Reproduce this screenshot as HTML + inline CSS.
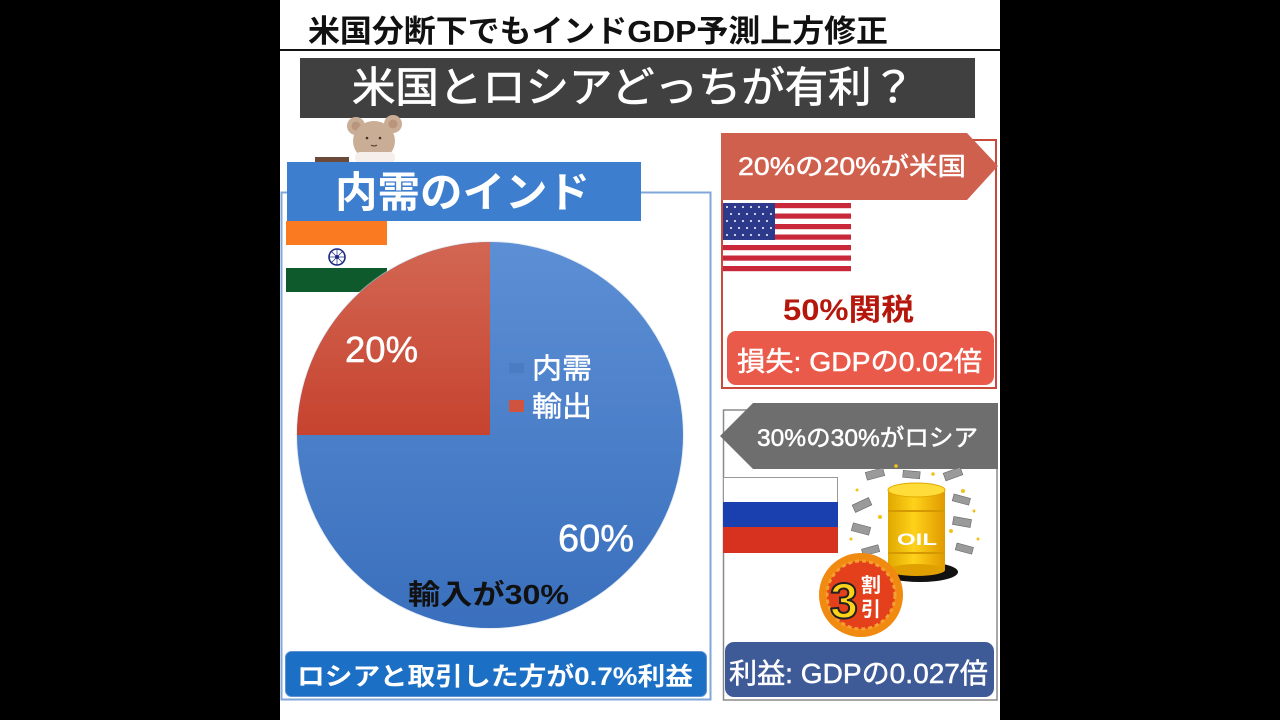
<!DOCTYPE html>
<html><head><meta charset="utf-8"><style>
html,body{margin:0;padding:0;background:#000;}
svg{display:block;}
text{font-family:"Liberation Sans","Noto Sans CJK JP",sans-serif;}
</style></head><body>
<svg width="1280" height="720" viewBox="0 0 1280 720" xmlns="http://www.w3.org/2000/svg">
<defs>
<linearGradient id="gb" x1="0" y1="0" x2="0" y2="1"><stop offset="0" stop-color="#5c8fd4"/><stop offset="1" stop-color="#3a6fbd"/></linearGradient>
<linearGradient id="gr" x1="0" y1="0" x2="0" y2="1"><stop offset="0" stop-color="#d26753"/><stop offset="1" stop-color="#c6432f"/></linearGradient>
<linearGradient id="gy" x1="0" y1="0" x2="1" y2="0"><stop offset="0" stop-color="#e0a800"/><stop offset="0.45" stop-color="#ffd21a"/><stop offset="1" stop-color="#e09a00"/></linearGradient>
</defs>
<rect x="0" y="0" width="1280" height="720" fill="#000"/>
<rect x="280" y="0" width="720" height="720" fill="#fff"/>

<!-- title -->
<text x="308" y="42" font-size="31" font-weight="bold" fill="#111" textLength="580" lengthAdjust="spacingAndGlyphs">米国分断下でもインドGDP予測上方修正</text>
<rect x="280" y="49" width="720" height="2" fill="#111"/>

<!-- dark bar -->
<rect x="300" y="58" width="675" height="60" fill="#404040"/>
<text x="352" y="102" font-size="42" fill="#fff" stroke="#fff" stroke-width="0.8" textLength="563" lengthAdjust="spacingAndGlyphs">米国とロシアどっちが有利？</text>

<!-- bear -->
<rect x="315" y="157" width="34" height="6" fill="#6b4a3a"/>
<circle cx="356" cy="126" r="9" fill="#c9ad95"/>
<circle cx="393" cy="124" r="9" fill="#c9ad95"/>
<circle cx="356" cy="126" r="4.5" fill="#b8957c"/>
<circle cx="393" cy="124" r="4.5" fill="#b8957c"/>
<ellipse cx="374" cy="141" rx="21" ry="20" fill="#c9ad95"/>
<rect x="355" y="152" width="40" height="11" rx="5" fill="#f6eeea"/>
<circle cx="367" cy="138" r="1.3" fill="#4a3020"/>
<circle cx="380" cy="138" r="1.3" fill="#4a3020"/>
<path d="M371 145 q3 2 6 0" stroke="#4a3020" stroke-width="1" fill="none"/>

<!-- left outline box -->
<rect x="281.5" y="192.5" width="429" height="507" fill="none" stroke="#7fa7d9" stroke-width="2"/>

<!-- blue header -->
<rect x="287" y="162" width="354" height="59" fill="#3d7ecf"/>
<text x="335" y="207" font-size="42" font-weight="bold" fill="#fff" textLength="255" lengthAdjust="spacingAndGlyphs">内需のインド</text>

<!-- India flag -->
<rect x="286" y="221" width="101" height="24" fill="#fa7a22"/>
<rect x="286" y="245" width="101" height="23" fill="#fff"/>
<rect x="286" y="268" width="101" height="24" fill="#0e5a2d"/>
<circle cx="337" cy="257" r="8" fill="#fff" stroke="#1c2a80" stroke-width="1.6"/>
<circle cx="337" cy="257" r="2" fill="#1c2a80"/>
<path d="M329 257h16M337 249v16M331.3 251.3l11.4 11.4M342.7 251.3l-11.4 11.4" stroke="#1c2a80" stroke-width="0.7"/>

<!-- pie -->
<circle cx="490" cy="435" r="194" fill="#d8e2ef" opacity="0.6"/>
<circle cx="490" cy="435" r="193" fill="url(#gb)"/>
<path d="M490 435 L490 242 A193 193 0 0 0 297 435 Z" fill="url(#gr)"/>
<text x="345" y="362" font-size="36" fill="#fff" stroke="#fff" stroke-width="0.5" textLength="73" lengthAdjust="spacingAndGlyphs">20%</text>
<text x="558" y="551" font-size="38" fill="#fff" stroke="#fff" stroke-width="0.5" textLength="76" lengthAdjust="spacingAndGlyphs">60%</text>
<rect x="509" y="363" width="15" height="10" fill="#4a7cc4"/>
<rect x="509" y="400" width="15" height="12" fill="#d0533f"/>
<text x="532" y="378" font-size="28" fill="#fff" stroke="#fff" stroke-width="0.5" textLength="60" lengthAdjust="spacingAndGlyphs">内需</text>
<text x="532" y="416" font-size="28" fill="#fff" stroke="#fff" stroke-width="0.5" textLength="60" lengthAdjust="spacingAndGlyphs">輸出</text>
<text x="408" y="604" font-size="28" font-weight="bold" fill="#111" textLength="161" lengthAdjust="spacingAndGlyphs">輸入が30%</text>

<!-- bottom-left box -->
<rect x="285.5" y="651.5" width="421" height="45" rx="6" fill="#1b6fc4" stroke="#5d93d3" stroke-width="1"/>
<text x="297" y="685" font-size="25" font-weight="bold" fill="#fff" textLength="396" lengthAdjust="spacingAndGlyphs">ロシアと取引した方が0.7%利益</text>

<!-- right top panel -->
<rect x="722" y="140" width="274" height="248" fill="none" stroke="#c9493a" stroke-width="2"/>
<polygon points="721,133 967,133 998,166 967,200 721,200" fill="#d0604e"/>
<text x="738" y="175" font-size="25" fill="#fff" stroke="#fff" stroke-width="0.5" textLength="228" lengthAdjust="spacingAndGlyphs">20%の20%が米国</text>

<!-- US flag -->
<g>
<rect x="723" y="203" width="128" height="68" fill="#fff"/>
<rect x="723" y="203" width="128" height="5.2" fill="#c8283a"/>
<rect x="723" y="213.5" width="128" height="5.2" fill="#c8283a"/>
<rect x="723" y="224" width="128" height="5.2" fill="#c8283a"/>
<rect x="723" y="234.5" width="128" height="5.2" fill="#c8283a"/>
<rect x="723" y="245" width="128" height="5.2" fill="#c8283a"/>
<rect x="723" y="255.5" width="128" height="5.2" fill="#c8283a"/>
<rect x="723" y="266" width="128" height="5.2" fill="#c8283a"/>
<rect x="723" y="203" width="52" height="37" fill="#2d3a8c"/>
<g fill="#fff">
<circle cx="727" cy="207" r="1"/><circle cx="735" cy="207" r="1"/><circle cx="743" cy="207" r="1"/><circle cx="751" cy="207" r="1"/><circle cx="759" cy="207" r="1"/><circle cx="767" cy="207" r="1"/>
<circle cx="731" cy="214" r="1"/><circle cx="739" cy="214" r="1"/><circle cx="747" cy="214" r="1"/><circle cx="755" cy="214" r="1"/><circle cx="763" cy="214" r="1"/><circle cx="771" cy="214" r="1"/>
<circle cx="727" cy="221" r="1"/><circle cx="735" cy="221" r="1"/><circle cx="743" cy="221" r="1"/><circle cx="751" cy="221" r="1"/><circle cx="759" cy="221" r="1"/><circle cx="767" cy="221" r="1"/>
<circle cx="731" cy="228" r="1"/><circle cx="739" cy="228" r="1"/><circle cx="747" cy="228" r="1"/><circle cx="755" cy="228" r="1"/><circle cx="763" cy="228" r="1"/><circle cx="771" cy="228" r="1"/>
<circle cx="727" cy="235" r="1"/><circle cx="735" cy="235" r="1"/><circle cx="743" cy="235" r="1"/><circle cx="751" cy="235" r="1"/><circle cx="759" cy="235" r="1"/><circle cx="767" cy="235" r="1"/>
</g>
</g>

<text x="783" y="320" font-size="30" font-weight="bold" fill="#b5170c" textLength="131" lengthAdjust="spacingAndGlyphs">50%関税</text>
<rect x="727" y="331" width="267" height="54" rx="9" fill="#ea5a4a"/>
<text x="737" y="371" font-size="27" fill="#fff" stroke="#fff" stroke-width="0.5" textLength="245" lengthAdjust="spacingAndGlyphs">損失: GDPの0.02倍</text>

<!-- right bottom panel -->
<rect x="723.5" y="410" width="273.5" height="290" fill="none" stroke="#8a8a8a" stroke-width="1.5"/>
<polygon points="753,403 998,403 998,469 753,469 720,436" fill="#6e6e6e"/>
<text x="757" y="446" font-size="24" fill="#fff" stroke="#fff" stroke-width="0.5" textLength="221" lengthAdjust="spacingAndGlyphs">30%の30%がロシア</text>

<!-- Russia flag -->
<rect x="723.5" y="477.5" width="114" height="75" fill="#fff" stroke="#999" stroke-width="1"/>
<rect x="723" y="502" width="115" height="25" fill="#1a3fae"/>
<rect x="723" y="527" width="115" height="26" fill="#d6321f"/>

<!-- oil illustration -->
<g>
<ellipse cx="920" cy="572" rx="38" ry="10" fill="#111"/>
<g fill="#9a9a9a" stroke="#666" stroke-width="0.6">
<rect x="866" y="470" width="18" height="8" transform="rotate(-15 875 474)"/>
<rect x="903" y="471" width="17" height="7" transform="rotate(5 911 474)"/>
<rect x="944" y="470" width="18" height="8" transform="rotate(-20 953 474)"/>
<rect x="853" y="501" width="18" height="8" transform="rotate(-25 862 505)"/>
<rect x="953" y="496" width="17" height="7" transform="rotate(15 961 499)"/>
<rect x="852" y="525" width="18" height="8" transform="rotate(15 861 529)"/>
<rect x="953" y="518" width="18" height="8" transform="rotate(10 962 522)"/>
<rect x="956" y="545" width="17" height="7" transform="rotate(15 964 548)"/>
<rect x="862" y="547" width="17" height="7" transform="rotate(-15 870 550)"/>
</g>
<g fill="#f2c21a">
<circle cx="896" cy="466" r="1.8"/><circle cx="933" cy="474" r="1.8"/><circle cx="963" cy="491" r="2"/><circle cx="857" cy="490" r="1.5"/><circle cx="880" cy="517" r="2"/><circle cx="974" cy="511" r="1.5"/><circle cx="851" cy="539" r="1.5"/><circle cx="978" cy="539" r="1.5"/><circle cx="951" cy="531" r="2"/>
</g>
<rect x="888" y="490" width="57" height="80" fill="url(#gy)"/>
<ellipse cx="916.5" cy="570" rx="28.5" ry="6" fill="#e0a000"/>
<ellipse cx="916.5" cy="490" rx="28.5" ry="7" fill="#ffdc3a" stroke="#e0a800" stroke-width="1"/>
<rect x="888" y="510" width="57" height="2" fill="#d69800"/>
<rect x="888" y="552" width="57" height="2" fill="#d69800"/>
<text x="897" y="545" font-size="17" font-weight="bold" fill="#fff" textLength="40" lengthAdjust="spacingAndGlyphs">OIL</text>
<circle cx="861" cy="595" r="42" fill="#f08a10"/>
<circle cx="861" cy="595" r="34" fill="#e5401c" stroke="#f4a030" stroke-width="3" stroke-dasharray="4 3"/>
<text x="830" y="618" font-size="50" font-weight="bold" fill="#ffd21a" stroke="#222" stroke-width="2" textLength="28" lengthAdjust="spacingAndGlyphs">3</text>
<text x="861" y="592" font-size="20" font-weight="bold" fill="#fff" textLength="20" lengthAdjust="spacingAndGlyphs">割</text>
<text x="861" y="616" font-size="20" font-weight="bold" fill="#fff" textLength="20" lengthAdjust="spacingAndGlyphs">引</text>
</g>

<rect x="725" y="642" width="269" height="55" rx="9" fill="#3f5b97"/>
<text x="729" y="683" font-size="28" fill="#fff" stroke="#fff" stroke-width="0.5" textLength="259" lengthAdjust="spacingAndGlyphs">利益: GDPの0.027倍</text>
</svg>
</body></html>
